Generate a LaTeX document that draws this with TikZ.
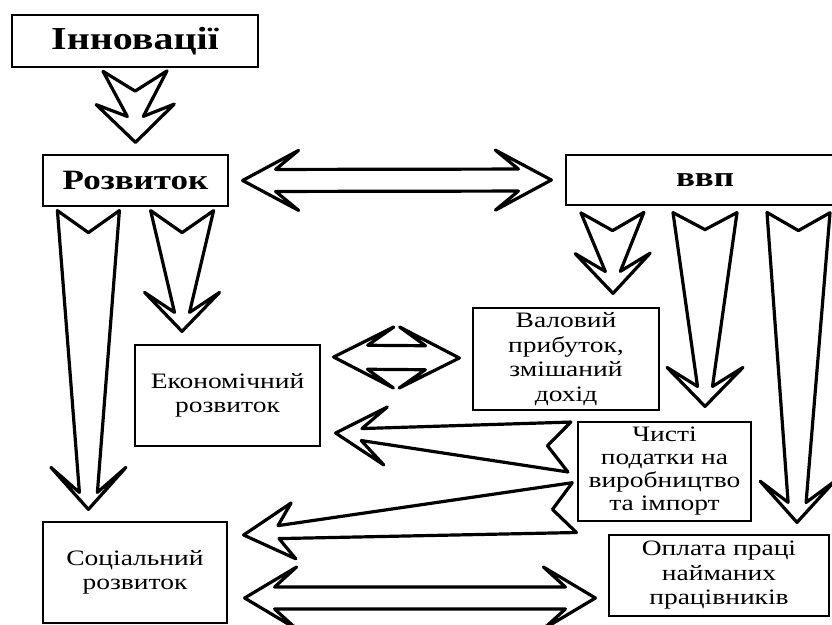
\documentclass[tikz,border=0pt]{standalone}
\usepackage{fontspec}
\setmainfont{Liberation Serif}[FakeStretch=1.25]
\usepackage{tikz}
\usetikzlibrary{calc, positioning}

\newcommand{\fatarrow}[8]{%
  \draw[fat] ($(#1)!#3!90:(#2)$) -- ($(#2)!#7!(#1)!#4!-90:(#1)$) -- ($(#2)!#6!(#1)!#5!-90:(#1)$) -- (#2)
    -- ($(#2)!#6!(#1)!#5!90:(#1)$) -- ($(#2)!#7!(#1)!#4!90:(#1)$) -- ($(#1)!#3!-90:(#2)$) -- ($(#1)!#8!(#2)$) -- cycle;}
\newcommand{\dblarrow}[6]{%
  \draw[fat] (#1) -- ($(#1)!#5!(#2)!#4!90:(#2)$) -- ($(#1)!#6!(#2)!#3!90:(#2)$) -- ($(#2)!#6!(#1)!#3!-90:(#1)$)
    -- ($(#2)!#5!(#1)!#4!-90:(#1)$) -- (#2) -- ($(#2)!#5!(#1)!#4!90:(#1)$) -- ($(#2)!#6!(#1)!#3!90:(#1)$)
    -- ($(#1)!#6!(#2)!#3!-90:(#2)$) -- ($(#1)!#5!(#2)!#4!-90:(#2)$) -- cycle;}

\begin{document}
\begin{tikzpicture}[x=1pt, y=-1pt,
    box/.style={draw, line width=1.2pt, align=center, inner sep=0pt, font=\fontsize{22}{24.5}\selectfont},
    headbox/.style={box, font=\fontsize{28}{32}\selectfont\bfseries},
    fat/.style={draw, line width=3.2pt, line join=round, fill=white}
]
\useasboundingbox (0,0) rectangle (832,624);

\node[headbox, line width=2.2pt, font=\fontsize{32}{36}\selectfont\bfseries, minimum width=246pt, minimum height=52pt] (innov) at (135,41) {Інновації};
\node[headbox, minimum width=185pt, minimum height=51pt] (rozv) at (135.5,180.5) {Розвиток};
\node[headbox, minimum width=278pt, minimum height=50pt] (vvp) at (705,180) {ввп};
\node[box, minimum width=185pt, minimum height=101pt] (econ) at (227.5,395.5) {Економічний\\розвиток};
\node[box, minimum width=186pt, minimum height=102pt] (gross) at (566,359) {Валовий\\прибуток,\\змішаний\\дохід};
\node[box, minimum width=173pt, minimum height=99pt, font=\fontsize{22}{23}\selectfont] (taxes) at (664.5,471.5) {Чисті\\податки на\\виробництво\\та імпорт};
\node[box, minimum width=184pt, minimum height=101pt] (social) at (135,572.5) {Соціальний\\розвиток};
\node[box, minimum width=220pt, minimum height=81pt] (wages) at (719,575.5) {Оплата праці\\найманих\\працівників};

\coordinate (innovOut) at ($(innov.south)+(0,3)$);
\coordinate (rozvIn) at ($(rozv.north)+(0,-12)$);
\coordinate (rozvOutA) at ($(rozv.south west)+(46,4)$);
\coordinate (socialIn) at ($(social.north west)+(46,-12)$);
\coordinate (rozvOutB) at ($(rozv.south east)+(-46.5,4)$);
\coordinate (econIn) at ($(econ.north)+(-45.5,-13)$);
\coordinate (vvpOutA) at ($(vvp.south west)+(47,7)$);
\coordinate (grossIn) at ($(gross.north)+(47,-14)$);
\coordinate (vvpOutB) at ($(vvp.south)+(0,7)$);
\coordinate (taxesIn) at ($(taxes.north)+(40.5,-15)$);
\coordinate (vvpOutC) at ($(vvp.south)+(93.5,7)$);
\coordinate (wagesIn) at ($(wages.north)+(78,-12)$);
\coordinate (taxesOutA) at ($(taxes.west)+(-8,-24.5)$);
\coordinate (econInB) at ($(econ.east)+(15,37.5)$);
\coordinate (taxesOutB) at ($(taxes.south west)+(-3,-14)$);
\coordinate (socialInB) at ($(social.east)+(16,-37.5)$);
\coordinate (rozvR) at ($(rozv.east)+(14,0)$);
\coordinate (vvpL) at ($(vvp.west)+(-14,0)$);
\coordinate (econR) at ($(econ.east)+(13,-38.5)$);
\coordinate (grossL) at ($(gross.west)+(-13,-1)$);
\coordinate (socialR) at ($(social.east)+(17,25.5)$);
\coordinate (wagesL) at ($(wages.west)+(-13,22.5)$);

\fatarrow{innovOut}{rozvIn}{32pt}{8pt}{39pt}{38pt}{26pt}{20pt}
\fatarrow{rozvOutA}{socialIn}{31pt}{9pt}{37.5pt}{42pt}{17pt}{22pt}
\fatarrow{rozvOutB}{econIn}{31.5pt}{7.5pt}{37.5pt}{39pt}{19pt}{22pt}
\fatarrow{vvpOutA}{grossIn}{31.5pt}{7.5pt}{37.5pt}{40pt}{22pt}{18pt}
\fatarrow{vvpOutB}{taxesIn}{32pt}{7.5pt}{38pt}{39pt}{20pt}{17pt}
\fatarrow{vvpOutC}{wagesIn}{31.5pt}{9pt}{37pt}{41pt}{20pt}{18pt}
\fatarrow{taxesOutA}{econInB}{25pt}{6pt}{29pt}{50pt}{26pt}{22pt}
\fatarrow{taxesOutB}{socialInB}{25pt}{6.5pt}{28pt}{50pt}{35pt}{22pt}
\dblarrow{rozvR}{vvpL}{11pt}{30pt}{56pt}{33pt}
\dblarrow{econR}{grossL}{12pt}{30.5pt}{60pt}{34pt}
\dblarrow{socialR}{wagesL}{11pt}{31pt}{52pt}{30pt}

\end{tikzpicture}
\end{document}
